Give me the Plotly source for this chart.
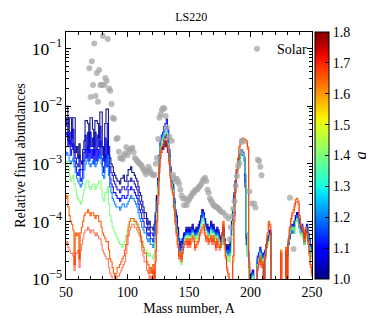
import numpy as np
import plotly.graph_objects as go

# ---------------- data ----------------
MASS = list(range(50, 251))  # mass number A = 50 ... 250

Q_VALUES = [1.00, 1.05, 1.10, 1.20, 1.40, 1.65, 1.70]

# log10 of relative final abundance for each q (value -6 = below the plotted range)
LOG_Q100 = [
    -2.00, -2.00, -2.60, -2.20, -2.20, -2.55, -2.20, -2.20, -2.80, -2.70,
    -2.90, -2.65, -2.95, -3.00, -2.75, -2.60, -2.25, -2.25, -2.30, -2.70,
    -2.20, -2.20, -2.40, -2.70, -2.25, -2.25, -2.30, -2.55, -2.10, -2.10,
    -2.70, -2.85, -2.30, -2.05, -2.05, -2.70, -2.90, -3.00, -3.05, -3.15,
    -3.20, -3.25, -3.30, -3.30, -3.35, -3.25, -3.25, -3.20, -3.30, -3.30,
    -3.20, -3.10, -3.10, -3.05, -3.15, -3.15, -3.20, -3.25, -3.30, -3.40,
    -3.50, -3.55, -3.65, -3.75, -3.85, -3.85, -3.95, -4.05, -4.00, -4.10,
    -4.10, -4.15, -4.05, -3.85, -3.55, -3.30, -2.90, -2.75, -2.70, -2.75,
    -2.60, -2.70, -2.60, -2.80, -2.90, -3.10, -3.30, -3.35, -3.60, -3.80,
    -3.90, -4.10, -4.30, -4.40, -4.35, -4.30, -4.20, -4.25, -4.10, -4.15,
    -4.10, -4.20, -4.10, -4.05, -4.15, -4.20, -4.10, -4.15, -4.05, -4.00,
    -3.90, -3.80, -3.85, -3.95, -4.10, -4.05, -4.15, -4.10, -4.00, -4.10,
    -4.05, -4.15, -4.20, -4.10, -4.15, -4.25, -4.30, -4.20, -4.10, -4.30,
    -4.40, -4.50, -4.40, -4.50, -4.30, -4.00, -3.80, -3.50, -3.30, -3.10,
    -3.00, -2.90, -2.85, -2.80, -2.85, -2.90, -3.40, -4.40, -4.60, -6.00,
    -6.00, -4.95, -4.90, -6.00, -6.00, -6.00, -4.70, -4.60, -4.50, -4.70,
    -4.60, -6.00, -4.60, -4.40, -4.35, -4.30, -4.20, -6.00, -6.00, -6.00,
    -6.00, -6.00, -6.00, -6.00, -6.00, -6.00, -6.00, -6.00, -6.00, -6.00,
    -4.60, -4.40, -4.30, -4.20, -4.10, -4.20, -4.00, -3.90, -3.85, -4.00,
    -4.10, -4.20, -4.10, -4.25, -4.40, -4.20, -4.10, -4.30, -4.35, -4.50, -4.60,
]
LOG_Q105 = [
    -2.35, -2.20, -2.20, -2.65, -2.45, -2.70, -2.40, -2.80, -2.90, -3.00,
    -3.05, -2.85, -3.10, -3.10, -2.95, -2.80, -2.50, -2.75, -2.45, -2.80,
    -2.45, -2.70, -2.55, -2.85, -2.45, -2.75, -2.50, -2.70, -2.35, -2.70,
    -2.85, -2.95, -2.55, -2.90, -2.30, -2.85, -3.05, -3.15, -3.20, -3.30,
    -3.35, -3.40, -3.45, -3.45, -3.50, -3.45, -3.40, -3.40, -3.45, -3.45,
    -3.40, -3.30, -3.30, -3.25, -3.30, -3.30, -3.35, -3.40, -3.45, -3.55,
    -3.65, -3.70, -3.80, -3.85, -3.95, -3.95, -4.05, -4.15, -4.10, -4.20,
    -4.20, -4.25, -4.15, -3.90, -3.55, -3.25, -2.85, -2.65, -2.60, -2.60,
    -2.50, -2.55, -2.45, -2.65, -2.85, -3.10, -3.30, -3.40, -3.65, -3.85,
    -3.95, -4.15, -4.35, -4.45, -4.40, -4.30, -4.25, -4.20, -4.15, -4.20,
    -4.15, -4.20, -4.15, -4.10, -4.15, -4.25, -4.15, -4.20, -4.10, -4.00,
    -3.95, -3.85, -3.90, -4.00, -4.10, -4.10, -4.20, -4.10, -4.05, -4.15,
    -4.10, -4.15, -4.25, -4.15, -4.20, -4.30, -4.30, -4.25, -4.15, -4.35,
    -4.45, -4.50, -4.45, -4.55, -4.35, -4.05, -3.85, -3.55, -3.30, -3.10,
    -2.95, -2.85, -2.80, -2.75, -2.80, -2.90, -3.30, -4.30, -4.55, -6.00,
    -6.00, -4.90, -4.85, -6.00, -6.00, -6.00, -4.65, -4.55, -4.50, -4.65,
    -4.60, -6.00, -4.55, -4.40, -4.30, -4.25, -4.20, -6.00, -6.00, -6.00,
    -6.00, -6.00, -6.00, -6.00, -6.00, -6.00, -6.00, -6.00, -6.00, -6.00,
    -4.55, -4.40, -4.25, -4.15, -4.10, -4.15, -4.00, -3.90, -3.85, -3.95,
    -4.10, -4.15, -4.10, -4.20, -4.35, -4.20, -4.10, -4.25, -4.35, -4.45, -4.60,
]
LOG_Q110 = [
    -2.50, -2.45, -2.70, -2.60, -2.85, -2.75, -2.65, -2.95, -3.05, -3.15,
    -3.20, -3.10, -3.30, -3.25, -3.10, -2.95, -2.75, -2.90, -2.70, -2.95,
    -2.75, -2.90, -2.75, -3.00, -2.75, -2.95, -2.75, -2.90, -2.60, -2.90,
    -3.05, -3.15, -2.85, -3.05, -2.60, -3.05, -3.25, -3.35, -3.40, -3.50,
    -3.50, -3.55, -3.60, -3.60, -3.65, -3.60, -3.55, -3.55, -3.60, -3.60,
    -3.55, -3.45, -3.45, -3.40, -3.45, -3.45, -3.50, -3.55, -3.60, -3.70,
    -3.80, -3.85, -3.95, -4.00, -4.10, -4.10, -4.20, -4.25, -4.20, -4.30,
    -4.30, -4.35, -4.25, -4.00, -3.60, -3.25, -2.85, -2.60, -2.50, -2.45,
    -2.35, -2.30, -2.22, -2.40, -2.75, -3.05, -3.30, -3.40, -3.65, -3.85,
    -4.00, -4.20, -4.40, -4.50, -4.45, -4.35, -4.25, -4.20, -4.15, -4.20,
    -4.15, -4.25, -4.15, -4.10, -4.20, -4.25, -4.15, -4.20, -4.10, -4.05,
    -3.95, -3.80, -3.85, -4.00, -4.15, -4.10, -4.20, -4.15, -4.05, -4.15,
    -4.10, -4.20, -4.25, -4.15, -4.20, -4.30, -4.35, -4.25, -4.15, -4.35,
    -4.45, -4.55, -4.45, -4.55, -4.40, -4.10, -3.90, -3.60, -3.35, -3.15,
    -3.00, -2.90, -2.80, -2.78, -2.80, -2.90, -3.20, -4.20, -4.50, -6.00,
    -6.00, -4.90, -4.85, -6.00, -6.00, -6.00, -4.60, -4.55, -4.45, -4.60,
    -4.55, -6.00, -4.50, -4.40, -4.30, -4.25, -4.15, -6.00, -6.00, -6.00,
    -6.00, -6.00, -6.00, -6.00, -6.00, -6.00, -6.00, -6.00, -6.00, -6.00,
    -4.55, -4.35, -4.25, -4.15, -4.05, -4.15, -4.05, -3.95, -3.85, -3.95,
    -4.05, -4.15, -4.05, -4.20, -4.30, -4.15, -4.05, -4.20, -4.30, -4.40, -4.55,
]
LOG_Q120 = [
    -2.85, -2.80, -2.85, -2.95, -3.00, -2.95, -2.90, -3.05, -3.15, -3.25,
    -3.30, -3.35, -3.40, -3.35, -3.25, -3.10, -3.00, -2.95, -2.90, -3.00,
    -3.05, -3.00, -2.95, -2.95, -3.05, -3.00, -2.95, -2.90, -2.85, -3.00,
    -3.20, -3.25, -3.05, -3.00, -2.85, -3.20, -3.40, -3.50, -3.60, -3.65,
    -3.70, -3.75, -3.75, -3.75, -3.80, -3.75, -3.70, -3.70, -3.75, -3.75,
    -3.70, -3.65, -3.60, -3.55, -3.60, -3.60, -3.65, -3.70, -3.75, -3.85,
    -3.95, -4.00, -4.10, -4.15, -4.20, -4.20, -4.30, -4.35, -4.30, -4.40,
    -4.40, -4.45, -4.35, -4.05, -3.65, -3.30, -2.90, -2.65, -2.55, -2.50,
    -2.45, -2.40, -2.35, -2.55, -2.80, -3.05, -3.30, -3.40, -3.65, -3.90,
    -4.05, -4.25, -4.45, -4.55, -4.50, -4.40, -4.30, -4.25, -4.20, -4.25,
    -4.20, -4.25, -4.20, -4.15, -4.20, -4.30, -4.20, -4.25, -4.15, -4.10,
    -4.00, -3.85, -3.90, -4.05, -4.15, -4.15, -4.25, -4.20, -4.10, -4.20,
    -4.15, -4.20, -4.30, -4.20, -4.25, -4.35, -4.40, -4.30, -4.20, -4.40,
    -4.50, -4.60, -4.50, -4.60, -4.45, -4.15, -3.95, -3.65, -3.40, -3.20,
    -3.05, -2.95, -2.85, -2.82, -2.85, -2.95, -3.25, -4.25, -4.55, -6.00,
    -6.00, -4.95, -4.90, -6.00, -6.00, -6.00, -4.65, -4.60, -4.50, -4.65,
    -4.60, -6.00, -4.55, -4.45, -4.35, -4.30, -4.20, -6.00, -6.00, -6.00,
    -6.00, -6.00, -6.00, -6.00, -6.00, -6.00, -6.00, -6.00, -6.00, -6.00,
    -4.60, -4.40, -4.30, -4.20, -4.10, -4.20, -4.10, -4.00, -3.90, -4.00,
    -4.10, -4.20, -4.10, -4.25, -4.35, -4.20, -4.10, -4.25, -4.35, -4.45, -4.60,
]
LOG_Q140 = [
    -3.00, -2.95, -3.05, -3.20, -3.30, -3.25, -3.20, -3.35, -3.45, -3.55,
    -3.60, -3.65, -3.70, -3.65, -3.55, -3.45, -3.35, -3.30, -3.30, -3.40,
    -3.45, -3.40, -3.35, -3.35, -3.45, -3.40, -3.35, -3.30, -3.30, -3.45,
    -3.60, -3.65, -3.50, -3.50, -3.40, -3.70, -3.90, -4.00, -4.10, -4.15,
    -4.20, -4.25, -4.30, -4.35, -4.40, -4.40, -4.45, -4.40, -4.35, -4.25,
    -4.15, -4.05, -4.00, -3.95, -3.95, -4.00, -4.00, -4.05, -4.05, -4.10,
    -4.20, -4.30, -4.40, -4.45, -4.50, -4.50, -4.55, -4.60, -4.55, -4.60,
    -4.60, -4.65, -4.55, -4.25, -3.85, -3.40, -2.95, -2.70, -2.60, -2.55,
    -2.50, -2.47, -2.45, -2.65, -2.90, -3.15, -3.35, -3.45, -3.70, -3.95,
    -4.15, -4.35, -4.55, -4.70, -4.75, -4.55, -4.40, -4.30, -4.25, -4.30,
    -4.25, -4.30, -4.25, -4.20, -4.25, -4.35, -4.25, -4.30, -4.20, -4.15,
    -4.05, -3.95, -4.00, -4.10, -4.20, -4.20, -4.30, -4.25, -4.15, -4.25,
    -4.20, -4.25, -4.35, -4.25, -4.30, -4.40, -4.45, -4.35, -4.25, -4.45,
    -4.55, -4.70, -4.60, -4.70, -4.55, -4.25, -4.00, -3.70, -3.45, -3.25,
    -3.05, -2.95, -2.85, -2.80, -2.82, -2.90, -3.15, -4.20, -4.60, -6.00,
    -6.00, -5.00, -4.95, -6.00, -6.00, -6.00, -4.75, -4.65, -4.55, -4.70,
    -4.65, -6.00, -4.60, -4.50, -4.40, -4.35, -4.25, -6.00, -6.00, -6.00,
    -6.00, -6.00, -6.00, -6.00, -6.00, -6.00, -6.00, -6.00, -6.00, -6.00,
    -4.55, -4.35, -4.20, -4.10, -4.15, -4.10, -4.20, -4.00, -3.95, -4.05,
    -4.15, -4.25, -4.20, -4.30, -4.40, -4.30, -4.25, -4.35, -4.45, -4.55, -4.65,
]
LOG_Q165 = [
    -3.60, -3.55, -3.75, -3.90, -4.00, -4.05, -4.15, -4.75, -4.20, -4.25,
    -4.20, -4.65, -4.20, -4.10, -4.00, -3.90, -3.85, -3.85, -3.80, -3.85,
    -3.90, -3.85, -3.85, -3.90, -3.95, -3.90, -3.90, -4.00, -4.00, -4.10,
    -4.20, -4.25, -4.30, -4.35, -4.35, -4.50, -4.65, -4.70, -4.80, -4.90,
    -5.10, -4.90, -4.80, -4.80, -4.75, -4.70, -4.65, -4.60, -4.50, -4.40,
    -4.25, -4.10, -4.00, -3.95, -3.95, -3.95, -4.00, -4.00, -4.05, -4.10,
    -4.15, -4.25, -4.35, -4.45, -4.55, -4.55, -4.70, -4.75, -4.90, -4.80,
    -4.90, -4.75, -5.10, -4.50, -4.00, -3.55, -3.05, -2.80, -2.70, -2.65,
    -2.60, -2.56, -2.56, -2.70, -2.95, -3.20, -3.40, -3.50, -3.75, -4.00,
    -4.20, -4.40, -4.60, -4.55, -4.65, -4.50, -4.40, -4.35, -4.30, -4.40,
    -4.30, -4.40, -4.30, -4.25, -4.30, -4.45, -4.40, -4.35, -4.30, -4.20,
    -4.15, -4.10, -4.05, -4.20, -4.30, -4.25, -4.35, -4.30, -4.25, -4.35,
    -4.25, -4.35, -4.45, -4.30, -4.40, -4.45, -4.40, -4.20, -4.00, -4.35,
    -4.60, -4.80, -4.90, -5.20, -6.00, -5.10, -4.60, -3.90, -3.40, -3.10,
    -2.90, -2.70, -2.58, -2.56, -2.55, -2.56, -2.58, -2.60, -2.70, -4.70,
    -6.00, -6.00, -6.00, -6.00, -6.00, -6.00, -4.80, -4.70, -4.60, -4.75,
    -4.70, -6.00, -4.60, -4.40, -4.20, -4.00, -4.05, -6.00, -6.00, -6.00,
    -6.00, -6.00, -6.00, -6.00, -6.00, -4.50, -6.00, -6.00, -6.00, -4.45,
    -6.00, -4.30, -4.10, -3.95, -3.85, -3.80, -3.70, -3.62, -3.60, -3.65,
    -3.90, -4.05, -4.10, -4.15, -4.30, -4.10, -4.20, -4.35, -4.55, -4.75, -4.90,
]
LOG_Q170 = [
    -4.40, -4.35, -4.45, -4.50, -4.55, -4.55, -4.60, -4.85, -4.55, -4.55,
    -4.50, -4.80, -4.50, -4.40, -4.30, -4.20, -4.15, -4.15, -4.10, -4.15,
    -4.20, -4.15, -4.15, -4.20, -4.25, -4.20, -4.25, -4.30, -4.30, -4.40,
    -4.50, -4.55, -4.60, -4.65, -4.65, -4.80, -4.90, -4.95, -5.05, -5.20,
    -6.00, -5.10, -4.95, -4.95, -4.90, -4.85, -4.80, -4.75, -4.70, -4.55,
    -4.40, -4.25, -4.15, -4.10, -4.05, -4.05, -4.10, -4.10, -4.15, -4.20,
    -4.25, -4.35, -4.50, -4.60, -4.70, -4.70, -4.85, -4.90, -5.10, -4.95,
    -5.20, -4.85, -5.30, -4.70, -4.20, -3.70, -3.15, -2.90, -2.80, -2.75,
    -2.70, -2.65, -2.65, -2.80, -3.00, -3.25, -3.45, -3.55, -3.80, -4.05,
    -4.25, -4.45, -4.65, -4.60, -4.70, -4.55, -4.45, -4.40, -4.35, -4.45,
    -4.35, -4.45, -4.35, -4.30, -4.35, -4.50, -4.45, -4.40, -4.35, -4.25,
    -4.20, -4.15, -4.10, -4.25, -4.35, -4.30, -4.40, -4.35, -4.30, -4.40,
    -4.30, -4.40, -4.50, -4.35, -4.45, -4.50, -4.45, -4.25, -4.05, -4.40,
    -4.65, -4.85, -4.95, -6.00, -6.00, -5.20, -4.70, -4.00, -3.50, -3.15,
    -2.95, -2.75, -2.62, -2.60, -2.58, -2.60, -2.62, -2.65, -2.75, -4.80,
    -6.00, -6.00, -6.00, -6.00, -6.00, -6.00, -4.85, -4.75, -4.65, -4.80,
    -4.75, -6.00, -4.65, -4.45, -4.25, -4.05, -4.10, -6.00, -6.00, -6.00,
    -6.00, -6.00, -6.00, -6.00, -6.00, -4.55, -6.00, -6.00, -6.00, -4.50,
    -6.00, -4.35, -4.15, -4.00, -3.90, -3.85, -3.75, -3.67, -3.65, -3.70,
    -3.95, -4.10, -4.15, -4.20, -4.35, -4.15, -4.25, -4.40, -4.60, -4.80, -4.95,
]

SERIES_LOGS = [LOG_Q100, LOG_Q105, LOG_Q110, LOG_Q120, LOG_Q140, LOG_Q165, LOG_Q170]
for s in SERIES_LOGS:
    assert len(s) == len(MASS), len(s)

# solar r-process abundances (grey dots)
SOLAR_A = [
    69, 70, 71, 72, 73, 74, 75, 76, 77, 78, 79, 80, 81, 82, 83, 84, 85, 86, 87, 88, 89,
    91, 92, 93, 94, 95, 96, 97, 98, 99, 100, 101, 102, 103, 104, 105, 106, 107, 108, 109,
    110, 111, 112, 113, 114, 115, 116, 117, 118, 119, 120, 121, 122, 123, 124, 125, 126,
    127, 128, 129, 130, 131, 132, 134, 136, 137, 138, 139, 140, 141, 142, 143, 144, 145,
    146, 147, 148, 149, 150, 151, 152, 153, 154, 155, 156, 157, 158, 159, 160, 161, 162,
    163, 164, 165, 166, 167, 168, 169, 170, 171, 172, 173, 174, 175, 176, 178, 180, 182,
    183, 184, 185, 186, 187, 188, 189, 190, 191, 192, 193, 194, 199, 201, 203, 204, 206,
    207, 208, 209, 232, 235,
]
SOLAR_LOG = [
    -1.34, -1.84, -1.22, -1.63, -0.91, -1.82, -1.42, -1.92, -1.37, -1.63, -1.63, -0.78,
    -1.63, -1.51, -1.56, -0.83, -1.69, -1.73, -1.96, -2.20, -2.22,
    -2.57, -2.55, -2.79, -2.90, -2.90, -2.92, -2.86, -2.82, -2.71, -2.85, -2.79, -2.75,
    -2.74, -2.72, -2.80, -2.90, -2.93, -2.95, -2.98,
    -3.00, -3.02, -3.06, -3.10, -3.13, -3.18, -3.13, -3.05, -3.10, -3.15, -3.18, -3.20,
    -3.19, -3.00, -2.90, -2.57, -2.20,
    -2.14, -2.06, -2.03, -2.04, -2.17, -2.37, -2.53, -2.60, -3.19, -3.25, -3.30, -3.26,
    -3.30, -3.35, -3.45, -3.55, -3.60,
    -3.72, -3.60, -3.72, -3.65, -3.62, -3.58, -3.55, -3.50, -3.50, -3.46, -3.45, -3.44,
    -3.40, -3.38, -3.35, -3.30, -3.27,
    -3.24, -3.30, -3.45, -3.50, -3.60, -3.64, -3.68, -3.72, -3.73, -3.75, -3.76, -3.78,
    -3.80, -3.83, -3.85, -3.90, -3.95,
    -4.31, -4.10, -3.91, -3.78, -3.65, -3.38, -3.21, -3.04, -2.99, -2.79, -2.62, -2.60,
    -3.48, -3.69, -3.69, -3.76, -2.93,
    -2.95, -3.05, -3.20, -3.59, -4.48,
]
assert len(SOLAR_A) == len(SOLAR_LOG), (len(SOLAR_A), len(SOLAR_LOG))

Q_MIN, Q_MAX = 1.0, 1.8
CBAR_TICKS = [1.0, 1.1, 1.2, 1.3, 1.4, 1.5, 1.6, 1.7, 1.8]

# ---------------- styling helpers ----------------
_R = ([0, 0.35, 0.66, 0.89, 1.0], [0, 0, 1, 1, 0.5])
_G = ([0, 0.125, 0.375, 0.64, 0.91, 1.0], [0, 0, 1, 1, 0, 0])
_B = ([0, 0.11, 0.34, 0.65, 1.0], [0.5, 1, 1, 0, 0])


def jet(t):
    r = np.interp(t, *_R)
    g = np.interp(t, *_G)
    b = np.interp(t, *_B)
    return int(round(r * 255)), int(round(g * 255)), int(round(b * 255))


def jet_q(q, alpha=1.0):
    r, g, b = jet((q - Q_MIN) / (Q_MAX - Q_MIN))
    return f"rgba({r},{g},{b},{alpha})"


colorscale = [[t, "rgb(%d,%d,%d)" % jet(t)] for t in np.linspace(0, 1, 41)]

FONT = "Liberation Serif, Times New Roman, serif"

fig = go.Figure()

alphas = [0.9, 0.85, 0.9, 0.9, 0.9, 0.95, 0.6]
for q, logs, a in zip(Q_VALUES, SERIES_LOGS, alphas):
    fig.add_trace(go.Scatter(
        x=MASS, y=[10 ** v for v in logs], mode="lines",
        line=dict(color=jet_q(q, a), width=1.1, shape="hvh"),
        showlegend=False, hoverinfo="skip",
    ))

fig.add_trace(go.Scatter(
    x=SOLAR_A, y=[10 ** v for v in SOLAR_LOG], mode="markers",
    marker=dict(color="rgba(165,165,165,0.75)", size=6, line=dict(width=0)),
    name="Solar", showlegend=True,
))

# colorbar carrier
fig.add_trace(go.Scatter(
    x=[None], y=[None], mode="markers",
    marker=dict(
        color=[Q_MIN], cmin=Q_MIN, cmax=Q_MAX, colorscale=colorscale, showscale=True,
        colorbar=dict(
            x=1.011, xanchor="left", xpad=0, y=0.5, yanchor="middle", ypad=0,
            len=1, lenmode="fraction", thickness=14,
            outlinewidth=1, outlinecolor="black",
            ticks="inside", ticklen=4, tickcolor="black",
            tickvals=CBAR_TICKS, ticktext=[f"{v:.1f}" for v in CBAR_TICKS],
            tickfont=dict(family=FONT, size=14, color="black"),
            title=dict(text="<i>q</i>", side="right", font=dict(family=FONT, size=16, color="black")),
        ),
    ),
    showlegend=False, hoverinfo="skip",
))

fig.update_layout(
    width=374, height=318,
    margin=dict(l=52, r=59, t=24, b=41),
    paper_bgcolor="white", plot_bgcolor="white",
    font=dict(family=FONT, size=14, color="black"),
    title=dict(text="LS220", x=0.49, xanchor="center", y=0.985, yanchor="top",
               font=dict(family=FONT, size=12, color="black")),
    legend=dict(x=1.0, xanchor="right", y=0.995, yanchor="top",
                bgcolor="rgba(0,0,0,0)", borderwidth=0,
                font=dict(family=FONT, size=14, color="black"),
                itemwidth=30, tracegroupgap=0),
)

fig.update_xaxes(
    range=[50, 250], dtick=50, tick0=50,
    showline=True, linecolor="black", linewidth=1, mirror="ticks",
    ticks="inside", ticklen=5, tickcolor="black",
    minor=dict(dtick=10, ticks="inside", ticklen=3, tickcolor="black"),
    showgrid=False, zeroline=False,
    tickfont=dict(family=FONT, size=14),
    title=dict(text="Mass number, A", font=dict(family=FONT, size=14), standoff=4),
)
fig.update_yaxes(
    type="log", range=[-5, -0.71], dtick=1,
    exponentformat="power",
    showline=True, linecolor="black", linewidth=1, mirror="ticks",
    ticks="inside", ticklen=5, tickcolor="black",
    minor=dict(dtick="D1", ticks="inside", ticklen=3, tickcolor="black"),
    showgrid=False, zeroline=False,
    tickfont=dict(family=FONT, size=14),
    title=dict(text="Relative final abundances", font=dict(family=FONT, size=14), standoff=2),
)

fig.write_html("out.html")
